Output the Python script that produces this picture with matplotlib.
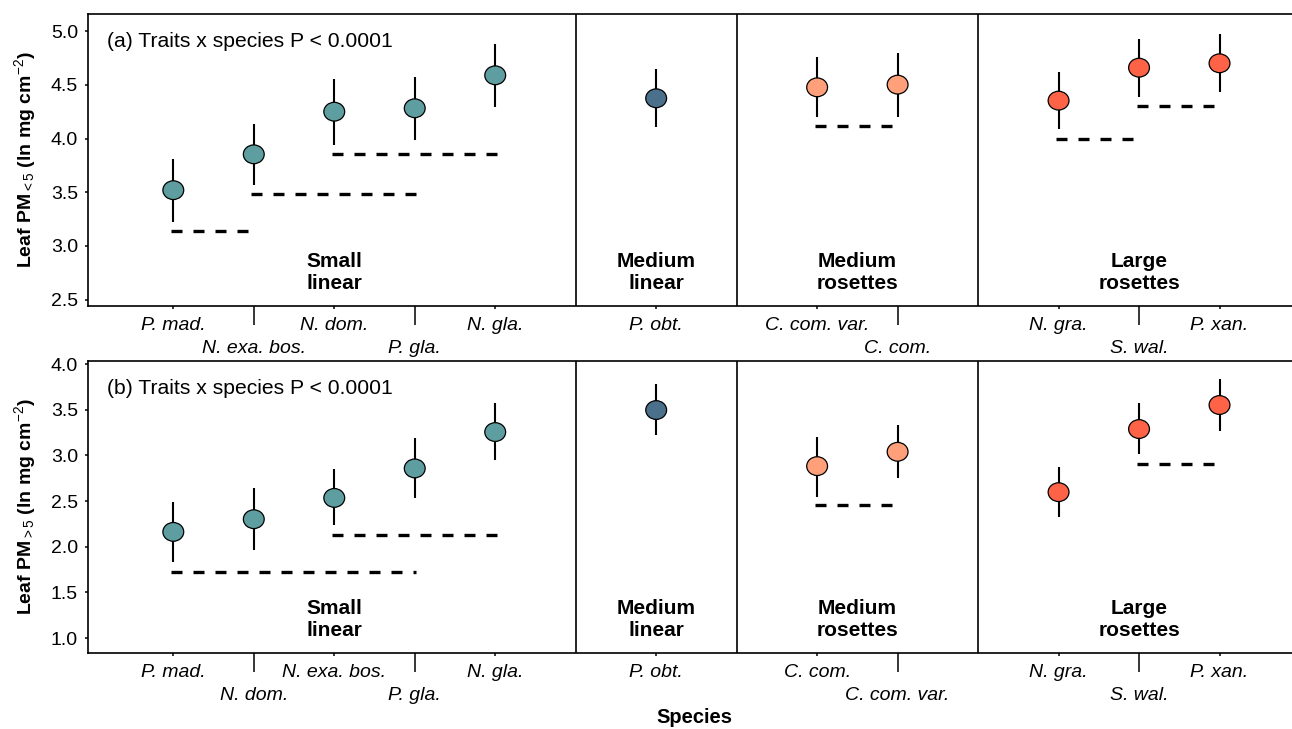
import matplotlib
matplotlib.use("Agg")
import matplotlib.pyplot as plt
import matplotlib.transforms as mtransforms
from matplotlib.path import Path
import numpy as np

plt.rcParams['font.family'] = ['Liberation Sans', 'DejaVu Sans']
plt.rcParams['mathtext.fontset'] = 'custom'
plt.rcParams['mathtext.rm'] = 'Liberation Sans'
plt.rcParams['mathtext.it'] = 'Liberation Sans:italic'
plt.rcParams['mathtext.bf'] = 'Liberation Sans:bold'

# ---------------- data ----------------
groups = ['Small\nlinear'] * 5 + ['Medium\nlinear'] + ['Medium\nrosettes'] * 2 + ['Large\nrosettes'] * 3
group_colors = {'Small\nlinear': '#5F9EA0', 'Medium\nlinear': '#4A708B',
                'Medium\nrosettes': '#FFA07A', 'Large\nrosettes': '#FF6347'}

species_a = ['P. mad.', 'N. exa. bos.', 'N. dom.', 'P. gla.', 'N. gla.', 'P. obt.',
             'C. com. var.', 'C. com.', 'N. gra.', 'S. wal.', 'P. xan.']
mean_a = [3.52, 3.854, 4.251, 4.283, 4.590, 4.376, 4.478, 4.503, 4.354, 4.661, 4.702]
lo_a = [3.227, 3.568, 3.941, 3.985, 4.298, 4.106, 4.205, 4.205, 4.087, 4.391, 4.432]
hi_a = [3.810, 4.134, 4.556, 4.577, 4.879, 4.646, 4.758, 4.795, 4.621, 4.925, 4.975]
dash_a_start = [0, 1, 2, 6, 8, 9]
dash_a_end = [1, 3, 4, 7, 9, 10]
dash_a_y = [3.137, 3.482, 3.854, 4.115, 4.000, 4.304]

species_b = ['P. mad.', 'N. dom.', 'N. exa. bos.', 'P. gla.', 'N. gla.', 'P. obt.',
             'C. com.', 'C. com. var.', 'N. gra.', 'S. wal.', 'P. xan.']
mean_b = [2.162, 2.301, 2.534, 2.857, 3.255, 3.496, 2.882, 3.039, 2.597, 3.288, 3.551]
lo_b = [1.833, 1.961, 2.232, 2.531, 2.948, 3.218, 2.545, 2.750, 2.326, 3.010, 3.269]
hi_b = [2.491, 2.638, 2.846, 3.186, 3.569, 3.781, 3.203, 3.328, 2.868, 3.569, 3.832]
dash_b_start = [0, 2, 6, 9]
dash_b_end = [3, 4, 7, 10]
dash_b_y = [1.728, 2.126, 2.451, 2.907]

yticks_a = [2.5, 3.0, 3.5, 4.0, 4.5, 5.0]
yticks_b = [1.0, 1.5, 2.0, 2.5, 3.0, 3.5, 4.0]

# ------------- layout --------------
lower_row = [1, 3, 7, 9]

# positions: consecutive within group, gap of one between groups
pos = []
dividers = []
p = 0
for i, g in enumerate(groups):
    if i > 0 and g != groups[i - 1]:
        dividers.append(p + 1)
        p += 2
    else:
        p += 1
    pos.append(p)
pos = np.array(pos, dtype=float)

# slightly wide elliptical marker (reference image is horizontally stretched)
_c = Path.unit_circle()
ellipse = Path(_c.vertices * np.array([1.0, 0.9]), _c.codes)

W, H = 1292, 729
fig = plt.figure(figsize=(W / 100, H / 100), dpi=100)
ax_w = (1300 - 88) / W
ax1 = fig.add_axes([88 / W, 1 - 306 / H, ax_w, 292 / H])
ax2 = fig.add_axes([88 / W, 1 - 653 / H, ax_w, 292 / H])


def draw(ax, species, mean, lo, hi, ds, de, dy, ylim, yticks, ylabel, annot):
    mean = np.array(mean); lo = np.array(lo); hi = np.array(hi)
    cols = [group_colors[g] for g in groups]
    ax.errorbar(pos, mean, yerr=[mean - lo, hi - mean], fmt='none',
                ecolor='black', elinewidth=1.5, capsize=0, zorder=2)
    ax.scatter(pos, mean, s=15.0 ** 2, c=cols, marker=ellipse, edgecolors='black',
               linewidths=0.9, zorder=3)
    for s, e, y in zip(ds, de, dy):
        ax.plot([pos[s] - 0.03, pos[e] + 0.02], [y, y], color='black', lw=2.4,
                linestyle=(0, (3.3, 3.3)), dash_capstyle='butt', zorder=2)
    for d in dividers:
        ax.axvline(d, color='black', lw=1.2, zorder=1)
    ax.set_xlim(-0.06, 15.0)
    ax.set_ylim(*ylim)
    ax.set_yticks(yticks)
    ax.set_yticklabels([f'{t:.1f}' for t in yticks])
    upper = [i for i in range(len(species)) if i not in lower_row]
    ax.set_xticks([pos[i] for i in upper], [species[i] for i in upper])
    ax.set_xticks([pos[i] for i in lower_row], [species[i] for i in lower_row], minor=True)
    ax.tick_params(axis='x', which='major', length=2.2, width=1.1, pad=5.5,
                   labelsize=14, color='black')
    ax.tick_params(axis='x', which='minor', length=13.7, width=1.1, pad=10.5,
                   labelsize=14, color='black')
    for lbl in ax.get_xticklabels(which='both'):
        lbl.set_fontstyle('italic')
    ax.tick_params(axis='y', length=2.2, width=1.1, pad=5, labelsize=14)
    for sp in ax.spines.values():
        sp.set_linewidth(1.2)
    ax.set_ylabel(ylabel, fontsize=14, fontweight='bold')
    ax.yaxis.set_label_coords(-0.0413, 0.5)
    ax.text(0.0157, 0.905, annot, transform=ax.transAxes, ha='left', va='center',
            fontsize=15.2)
    trans = mtransforms.blended_transform_factory(ax.transData, ax.transAxes)
    seen = []
    for g in groups:
        if g in seen:
            continue
        seen.append(g)
        gx = np.mean([pos[i] for i in range(len(groups)) if groups[i] == g])
        ax.text(gx, 0.115, g, transform=trans, ha='center', va='center',
                fontsize=15, fontweight='bold', linespacing=1.15)


draw(ax1, species_a, mean_a, lo_a, hi_a, dash_a_start, dash_a_end, dash_a_y,
     (2.441, 5.161), yticks_a, r'Leaf PM$_{<5}$ (ln mg cm$^{-2}$)',
     '(a) Traits x species P < 0.0001')
draw(ax2, species_b, mean_b, lo_b, hi_b, dash_b_start, dash_b_end, dash_b_y,
     (0.836, 4.033), yticks_b, r'Leaf PM$_{>5}$ (ln mg cm$^{-2}$)',
     '(b) Traits x species P < 0.0001')

ax2.set_xlabel('Species', fontsize=14.5, fontweight='bold', va='bottom')
ax2.xaxis.set_label_coords(0.5, (653 - 727) / 292)

fig.savefig('out.png', dpi=100)
